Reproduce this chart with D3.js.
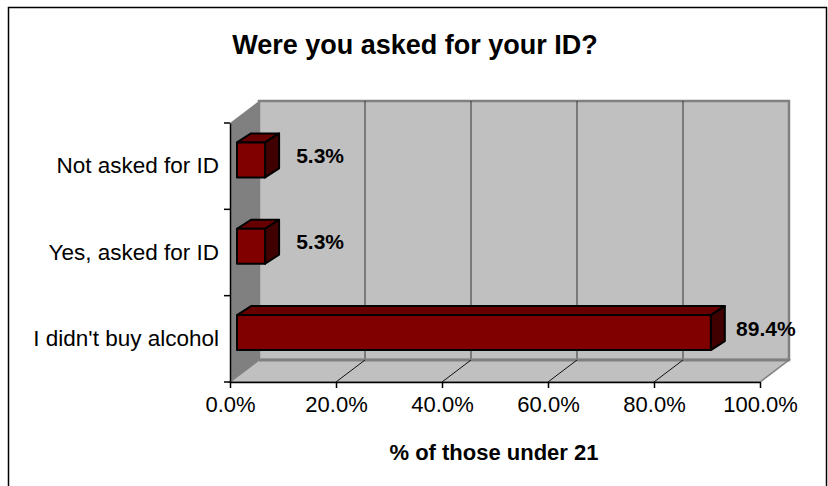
<!DOCTYPE html>
<html>
<head>
<meta charset="utf-8">
<script src="https://cdn.jsdelivr.net/npm/d3@7"></script>
<style>
  html, body { margin: 0; padding: 0; background: #fff; }
  svg { display: block; font-family: "Liberation Sans", Arial, sans-serif; }
</style>
</head>
<body>
<svg id="chart" width="828" height="486"></svg>
<script>
// ---- data ----
const categories = ["Not asked for ID", "Yes, asked for ID", "I didn't buy alcohol"];
const values = [5.3, 5.3, 89.4];
const xTicks = [0, 20, 40, 60, 80, 100];
const titleText = "Were you asked for your ID?";
const xAxisTitle = "% of those under 21";

// ---- layout ----
const W = 828, H = 486;
const svg = d3.select("#chart");
const x = d3.scaleLinear().domain([0, 100]).range([230, 760]);
const y = d3.scaleBand().domain(categories).range([123, 382]).padding(0);
const DX = 29, DY = -22;          // wall depth
const BF = { dx: 7, dy: 0 };      // bar front offset
const BD = { dx: 14, dy: -9 };    // bar depth
const fmt = d => d.toFixed(1) + "%";

// outer border
svg.append("rect").attr("x", 8.5).attr("y", 7.5).attr("width", 818).attr("height", 490)
  .attr("fill", "#fff").attr("stroke", "#000").attr("stroke-width", 1.5);

const x0 = x(0), x1 = x(100), yT = y.range()[0], yB = y.range()[1];

// back wall
svg.append("polygon")
  .attr("points", [[x0 + DX, yT + DY], [x1 + DX, yT + DY], [x1 + DX, yB + DY], [x0 + DX, yB + DY]].join(" "))
  .attr("fill", "#c0c0c0").attr("stroke", "#808080").attr("stroke-width", 2.5);
// left wall
svg.append("polygon")
  .attr("points", [[x0, yT], [x0 + DX, yT + DY], [x0 + DX, yB + DY], [x0, yB]].join(" "))
  .attr("fill", "#808080");
// floor
svg.append("polygon")
  .attr("points", [[x0, yB], [x0 + DX, yB + DY], [x1 + DX, yB + DY], [x1, yB]].join(" "))
  .attr("fill", "#c0c0c0").attr("stroke", "#808080").attr("stroke-width", 1.5);
// back wall bottom dark strip
svg.append("line").attr("x1", x0 + DX).attr("x2", x1 + DX)
  .attr("y1", yB + DY).attr("y2", yB + DY).attr("stroke", "#808080").attr("stroke-width", 3);

// gridlines
const grid = xTicks.filter(d => d > 0 && d < 100);
svg.append("g").selectAll("line").data(grid).join("line")
  .attr("x1", d => x(d) + DX).attr("x2", d => x(d) + DX)
  .attr("y1", yT + DY).attr("y2", yB + DY - 1.5)
  .attr("stroke", "#333").attr("stroke-width", 1);
svg.append("g").selectAll("line").data(grid).join("line")
  .attr("x1", d => x(d)).attr("x2", d => x(d) + DX)
  .attr("y1", yB).attr("y2", yB + DY)
  .attr("stroke", "#111").attr("stroke-width", 1);

// bars
const bars = svg.append("g");
categories.forEach((c, i) => {
  const bt = y(c), bw = y.bandwidth();
  const fy0 = bt + 0.225 * bw, fy1 = bt + 0.63 * bw;
  const fx0 = x(0) + BF.dx, fx1 = x(values[i]) + BF.dx;
  const g = bars.append("g").attr("stroke", "#000").attr("stroke-width", 2).attr("stroke-linejoin", "round");
  g.append("polygon")
    .attr("points", [[fx0, fy0], [fx0 + BD.dx, fy0 + BD.dy], [fx1 + BD.dx, fy0 + BD.dy], [fx1, fy0]].join(" "))
    .attr("fill", "#660000");
  g.append("polygon")
    .attr("points", [[fx1, fy0], [fx1 + BD.dx, fy0 + BD.dy], [fx1 + BD.dx, fy1 + BD.dy], [fx1, fy1]].join(" "))
    .attr("fill", "#400000");
  g.append("rect").attr("x", fx0).attr("y", fy0).attr("width", fx1 - fx0).attr("height", fy1 - fy0)
    .attr("fill", "#800000");
  // value label
  svg.append("text")
    .attr("x", fx1 + 55).attr("y", (fy0 + fy1) / 2 + BD.dy / 2 + 7.5)
    .attr("text-anchor", "middle").attr("font-size", 21).attr("font-weight", "bold")
    .attr("fill", "#000").text(fmt(values[i]));
});

// x axis
const xAxis = svg.append("g").attr("transform", `translate(0,${yB})`)
  .call(d3.axisBottom(x).tickValues(xTicks).tickFormat(fmt).tickSize(6).tickSizeOuter(0));
xAxis.select(".domain").attr("stroke", "#000").attr("stroke-width", 1.5);
xAxis.selectAll(".tick line").attr("stroke", "#000").attr("stroke-width", 1.5);
xAxis.selectAll(".tick text").attr("font-size", 22).attr("fill", "#000")
  .attr("font-family", "Liberation Sans, Arial, sans-serif").attr("dy", "0.95em").attr("y", 9);

// y axis
const yAxis = svg.append("g").attr("transform", `translate(${x0},0)`)
  .call(d3.axisLeft(y).tickSize(0).tickPadding(11));
yAxis.select(".domain").attr("stroke", "#000").attr("stroke-width", 1.5);
yAxis.selectAll(".tick text").attr("font-size", 22.5).attr("fill", "#000")
  .attr("font-family", "Liberation Sans, Arial, sans-serif");
const bounds = categories.map(c => y(c)).concat([yB]);
svg.append("g").selectAll("line").data(bounds).join("line")
  .attr("x1", x0 - 6).attr("x2", x0).attr("y1", d => d).attr("y2", d => d)
  .attr("stroke", "#000").attr("stroke-width", 1.5);

// titles
svg.append("text").attr("x", 415).attr("y", 54).attr("text-anchor", "middle")
  .attr("font-size", 27).attr("font-weight", "bold").attr("fill", "#000").text(titleText);
svg.append("text").attr("x", 494).attr("y", 460).attr("text-anchor", "middle")
  .attr("font-size", 22).attr("font-weight", "bold").attr("fill", "#000").text(xAxisTitle);
</script>
</body>
</html>
